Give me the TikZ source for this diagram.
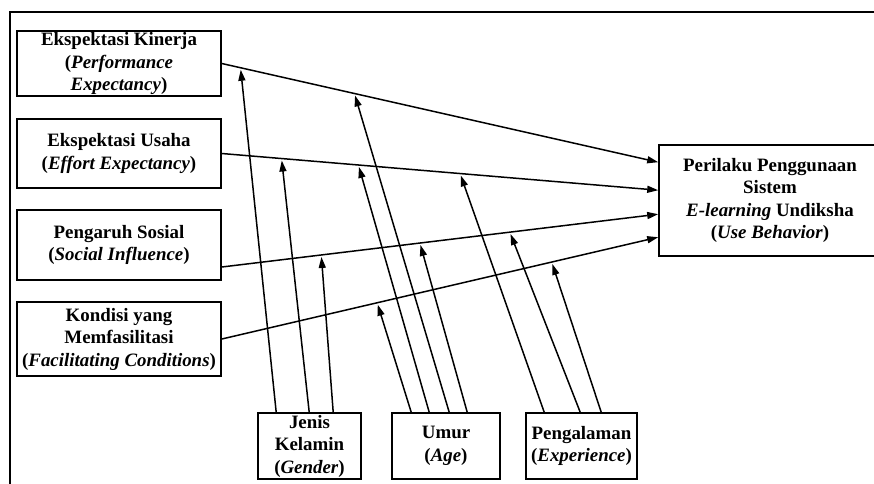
\documentclass[tikz,border=0pt]{standalone}
\usepackage{fontspec}
\setmainfont{Liberation Serif}
\usetikzlibrary{arrows.meta,calc}
\begin{document}
\begin{tikzpicture}[x=1pt,y=-1pt,
  box/.style={draw, line width=1.6pt, align=center, inner sep=0pt, fill=white,
    font=\fontsize{18.9}{22.5}\selectfont\bfseries},
  arr/.style={line width=1.5pt, -{Triangle[length=11pt,width=7pt]}},
  modarr/.style={arr, shorten >=2pt}]
\useasboundingbox (0,0) rectangle (874,483);
\clip (0,0) rectangle (874,483);
\fill[white] (0,0) rectangle (874,483);
% outer frame
\draw[line width=1.9pt] (10,495) -- (10,12) -- (890,12);

% left boxes
\node[box, minimum width=204pt, minimum height=65pt] (k1) at (119,63.5)
  {Ekspektasi Kinerja\\(\textit{Performance}\\\textit{Expectancy})};
\node[box, minimum width=204pt, minimum height=69pt] (k2) at (119,153.5)
  {Ekspektasi Usaha\\(\textit{Effort Expectancy})};
\node[box, minimum width=204pt, minimum height=70pt] (k3) at (119,245)
  {Pengaruh Sosial\\(\textit{Social Influence})};
\node[box, minimum width=204pt, minimum height=74pt] (k4) at (119,339)
  {Kondisi yang\\Memfasilitasi\\(\textit{Facilitating Conditions})};

% bottom boxes
\node[box, minimum width=103pt, minimum height=66pt] (jk) at (309.5,446)
  {Jenis\\Kelamin\\(\textit{Gender})};
\node[box, minimum width=108pt, minimum height=66pt] (um) at (446,446)
  {Umur\\(\textit{Age})};
\node[box, minimum width=111pt, minimum height=66pt] (pg) at (581.5,446)
  {Pengalaman\\(\textit{Experience})};

% outcome box
\node[box, minimum width=222pt, minimum height=111pt] (pb) at (770,200.5)
  {Perilaku Penggunaan\\Sistem\\\textit{E-learning} Undiksha\\(\textit{Use Behavior})};

% start / end coordinates of main paths
\coordinate (s1) at (k1.east);
\coordinate (s2) at (k2.east);
\coordinate (s3) at ($(k3.east)+(0,22)$);
\coordinate (s4) at (k4.east);
\coordinate (p1) at ($(pb.north west)+(0,18)$);
\coordinate (p2) at ($(pb.north west)+(0,46)$);
\coordinate (p3) at ($(pb.north west)+(0,70)$);
\coordinate (p4) at ($(pb.north west)+(0,93)$);

\draw[arr] (s1) -- (p1);
\draw[arr] (s2) -- (p2);
\draw[arr] (s3) -- (p3);
\draw[arr] (s4) -- (p4);

% moderator targets on the main paths
\coordinate (t1j) at ($(s1)!0.043!(p1)$);
\coordinate (t1u) at ($(s1)!0.304!(p1)$);
\coordinate (t2j) at ($(s2)!0.137!(p2)$);
\coordinate (t2u) at ($(s2)!0.313!(p2)$);
\coordinate (t2p) at ($(s2)!0.546!(p2)$);
\coordinate (t3j) at ($(s3)!0.228!(p3)$);
\coordinate (t3u) at ($(s3)!0.454!(p3)$);
\coordinate (t3p) at ($(s3)!0.660!(p3)$);
\coordinate (t4u) at ($(s4)!0.356!(p4)$);
\coordinate (t4p) at ($(s4)!0.756!(p4)$);

% Jenis Kelamin
\draw[modarr] ($(jk.north west)+(19,0)$) -- (t1j);
\draw[modarr] ($(jk.north west)+(52,0)$) -- (t2j);
\draw[modarr] ($(jk.north west)+(76,0)$) -- (t3j);
% Umur
\draw[modarr] ($(um.north west)+(20,0)$) -- (t4u);
\draw[modarr] ($(um.north west)+(38,0)$) -- (t2u);
\draw[modarr] ($(um.north west)+(58,0)$) -- (t1u);
\draw[modarr] ($(um.north west)+(76,0)$) -- (t3u);
% Pengalaman
\draw[modarr] ($(pg.north west)+(19,0)$) -- (t2p);
\draw[modarr] ($(pg.north west)+(55,0)$) -- (t3p);
\draw[modarr] ($(pg.north west)+(76,0)$) -- (t4p);
\end{tikzpicture}
\end{document}
